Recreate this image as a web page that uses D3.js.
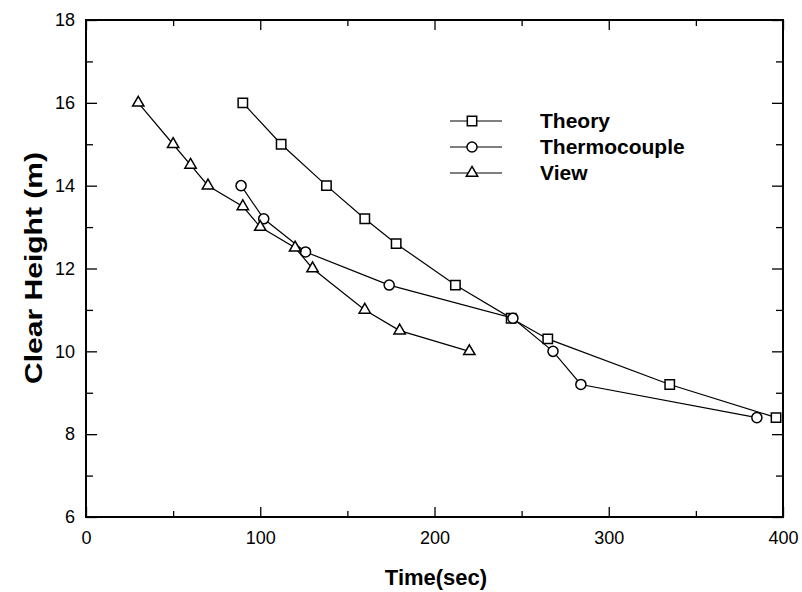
<!DOCTYPE html>
<html>
<head>
<meta charset="utf-8">
<script src="https://cdn.jsdelivr.net/npm/d3@7"></script>
<style>
  body { margin: 0; background: #fff; }
  text { font-family: "Liberation Sans", Arial, sans-serif; fill: #000; }
</style>
</head>
<body>
<div id="chart"></div>
<script>
// data
const theoryTime = [90, 112, 138, 160, 178, 212, 244, 265, 335, 396];
const theoryHeight = [16, 15, 14, 13.2, 12.6, 11.6, 10.8, 10.3, 9.2, 8.4];
const thermoTime = [89, 102, 126, 174, 245, 268, 284, 385];
const thermoHeight = [14, 13.2, 12.4, 11.6, 10.8, 10, 9.2, 8.4];
const viewTime = [30, 50, 60, 70, 90, 100, 120, 130, 160, 180, 220];
const viewHeight = [16, 15, 14.5, 14, 13.5, 13, 12.5, 12, 11, 10.5, 10];
const seriesNames = ["Theory", "Thermocouple", "View"];
const xTicks = [0, 100, 200, 300, 400];
const xMinor = [50, 150, 250, 350];
const yTicks = [6, 8, 10, 12, 14, 16, 18];
const yMinor = [7, 9, 11, 13, 15, 17];

const margin = { top: 20, right: 19, bottom: 75, left: 86 };
const width = 802 - margin.left - margin.right;
const height = 592 - margin.top - margin.bottom;

const svg = d3.select("#chart")
  .append("svg")
  .attr("width", width + margin.left + margin.right)
  .attr("height", height + margin.top + margin.bottom)
  .append("g")
  .attr("transform", `translate(${margin.left}, ${margin.top})`);

const xScale = d3.scaleLinear().domain([0, 400]).range([0, width]);
const yScale = d3.scaleLinear().domain([6, 18]).range([height, 0]);

// ticks point inward on all four sides
function tickAxis(axis, values, size, labels) {
  return axis.tickValues(values).tickSizeInner(-size).tickSizeOuter(0)
    .tickPadding(labels ? 14 : 0).tickFormat(labels ? d3.format("d") : "");
}

const bottomAxis = svg.append("g").attr("transform", `translate(0, ${height})`);
bottomAxis.append("g").call(tickAxis(d3.axisBottom(xScale), xTicks, 10, true));
bottomAxis.append("g").call(tickAxis(d3.axisBottom(xScale), xMinor, 6, false));
const topAxis = svg.append("g");
topAxis.append("g").call(tickAxis(d3.axisTop(xScale), xTicks, 10, false));
topAxis.append("g").call(tickAxis(d3.axisTop(xScale), xMinor, 6, false));
const leftAxis = svg.append("g");
leftAxis.append("g").call(tickAxis(d3.axisLeft(yScale), yTicks, 11, true));
leftAxis.append("g").call(tickAxis(d3.axisLeft(yScale), yMinor, 7, false));
const rightAxis = svg.append("g").attr("transform", `translate(${width}, 0)`);
rightAxis.append("g").call(tickAxis(d3.axisRight(yScale), yTicks, 11, false));
rightAxis.append("g").call(tickAxis(d3.axisRight(yScale), yMinor, 7, false));

svg.selectAll(".domain").remove();
svg.selectAll(".tick line").attr("stroke", "#000").attr("stroke-width", 1.3);
svg.selectAll(".tick text").style("font-size", "18px");
leftAxis.selectAll(".tick text").attr("x", -11);

svg.append("rect")
  .attr("width", width)
  .attr("height", height)
  .attr("fill", "none")
  .attr("stroke", "#000")
  .attr("stroke-width", 2);

// series
const series = [
  { name: seriesNames[0], t: theoryTime, h: theoryHeight, shape: d3.symbolSquare, size: 88 },
  { name: seriesNames[1], t: thermoTime, h: thermoHeight, shape: d3.symbolCircle, size: 80 },
  { name: seriesNames[2], t: viewTime, h: viewHeight, shape: d3.symbolTriangle, size: 56 }
];

const line = d3.line().x(d => xScale(d[0])).y(d => yScale(d[1]));

series.forEach(s => {
  const pts = s.t.map((t, i) => [t, s.h[i]]);
  svg.append("path")
    .datum(pts)
    .attr("d", line)
    .attr("fill", "none")
    .attr("stroke", "#000")
    .attr("stroke-width", 1.2);
  svg.selectAll(null)
    .data(pts)
    .join("path")
    .attr("transform", d => `translate(${xScale(d[0])}, ${yScale(d[1])})`)
    .attr("d", d3.symbol().type(s.shape).size(s.size))
    .attr("fill", "#fff")
    .attr("stroke", "#000")
    .attr("stroke-width", 1.5);
});

// legend
const legend = svg.append("g")
  .selectAll("g")
  .data(series)
  .join("g")
  .attr("transform", (d, i) => `translate(${450 - margin.left}, ${121 - margin.top + i * 26})`);

legend.append("line")
  .attr("x1", 0).attr("x2", 52)
  .attr("stroke", "#000").attr("stroke-width", 1);

legend.append("path")
  .attr("transform", "translate(22, 0)")
  .attr("d", d => d3.symbol().type(d.shape).size(d.size)())
  .attr("fill", "#fff")
  .attr("stroke", "#000")
  .attr("stroke-width", 1.5);

legend.append("text")
  .attr("x", 90)
  .attr("dy", ".35em")
  .style("font-size", "21px")
  .style("font-weight", "bold")
  .text(d => d.name);

// axis titles
svg.append("text")
  .attr("x", 436 - margin.left)
  .attr("y", 585 - margin.top)
  .style("text-anchor", "middle")
  .style("font-size", "22px")
  .style("font-weight", "bold")
  .text("Time(sec)");

svg.append("text")
  .attr("transform", `translate(${42 - margin.left}, ${268 - margin.top}) rotate(-90)`)
  .style("text-anchor", "middle")
  .style("font-size", "24px")
  .style("font-weight", "bold")
  .attr("textLength", 232)
  .attr("lengthAdjust", "spacingAndGlyphs")
  .text("Clear Height (m)");
</script>
</body>
</html>
